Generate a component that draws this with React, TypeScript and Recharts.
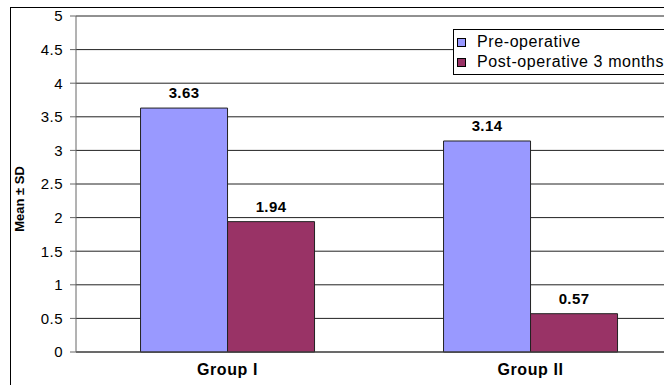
import { Bar, BarChart, CartesianGrid, LabelList, Legend, XAxis, YAxis } from "recharts";

const CATEGORIES = ["Group I", "Group II"];
const PRE_OP = [3.63, 3.14];
const POST_OP = [1.94, 0.57];
const Y_TICKS = [0, 0.5, 1, 1.5, 2, 2.5, 3, 3.5, 4, 4.5, 5];

const SERIES = [
  { key: "pre", name: "Pre-operative", color: "#9999FF" },
  { key: "post", name: "Post-operative 3 months", color: "#993366" },
];

const DATA = CATEGORIES.map((group, i) => ({ group, pre: PRE_OP[i], post: POST_OP[i] }));

const FONT = "'Liberation Sans', Arial, sans-serif";

function LegendBox() {
  return (
    <div
      style={{
        border: "1px solid #000",
        background: "#fff",
        padding: "2px 40px 2px 3px",
        fontFamily: FONT,
        fontSize: 16,
        letterSpacing: 0.6,
        color: "#000",
        whiteSpace: "nowrap",
      }}
    >
      {SERIES.map((s) => (
        <div key={s.key} style={{ display: "flex", alignItems: "center", height: 20 }}>
          <span
            style={{
              display: "inline-block",
              width: 7,
              height: 7,
              background: s.color,
              border: "1px solid #000",
              marginRight: 11,
            }}
          />
          {s.name}
        </div>
      ))}
    </div>
  );
}

export default function App() {
  return (
    <div style={{ position: "fixed", left: 0, top: 0, width: 664, height: 385, overflow: "hidden", background: "#fff" }}>
      <div
        style={{
          position: "absolute",
          left: 10,
          top: 7,
          width: 720,
          height: 420,
          border: "1px solid #000",
        }}
      />
      <div style={{ position: "absolute", left: 0, top: 0 }}>
        <BarChart
          width={700}
          height={385}
          data={DATA}
          margin={{ top: 16, right: 18, left: 10, bottom: 3 }}
          barCategoryGap="21.3%"
          barGap={0}
        >
          <CartesianGrid vertical={false} stroke="#222" />
          <XAxis
            dataKey="group"
            height={30}
            axisLine={{ stroke: "#444" }}
            tickLine={false}
            tickSize={6}
            tickMargin={6}
            tick={{ fill: "#000", fontSize: 16, fontWeight: "bold", fontFamily: FONT, letterSpacing: 0.6 }}
          />
          <YAxis
            width={66}
            domain={[0, 5]}
            ticks={Y_TICKS}
            interval={0}
            axisLine={{ stroke: "#666" }}
            tickLine={{ stroke: "#666" }}
            tickSize={6}
            tickMargin={7}
            tick={{ fill: "#000", fontSize: 15, fontFamily: FONT, letterSpacing: 0.5 }}
            label={{
              content: () => (
                <text
                  x={19}
                  y={199}
                  transform="rotate(-90 19 199)"
                  textAnchor="middle"
                  dominantBaseline="central"
                  fontFamily={FONT}
                  fontSize={13}
                  fontWeight="bold"
                  fill="#000"
                >
                  Mean ± SD
                </text>
              ),
            }}
          />
          <Legend
            layout="horizontal"
            verticalAlign="middle"
            align="center"
            content={() => <LegendBox />}
            wrapperStyle={{ position: "absolute", left: 453, top: 29, width: "auto" }}
          />
          {SERIES.map((s) => (
            <Bar key={s.key} dataKey={s.key} name={s.name} fill={s.color} stroke="#222" strokeWidth={1} isAnimationActive={false}>
              <LabelList
                dataKey={s.key}
                position="top"
                offset={10}
                fill="#000"
                fontSize={15}
                fontWeight="bold"
                fontFamily={FONT}
                letterSpacing={0.4}
              />
            </Bar>
          ))}
        </BarChart>
      </div>
    </div>
  );
}
